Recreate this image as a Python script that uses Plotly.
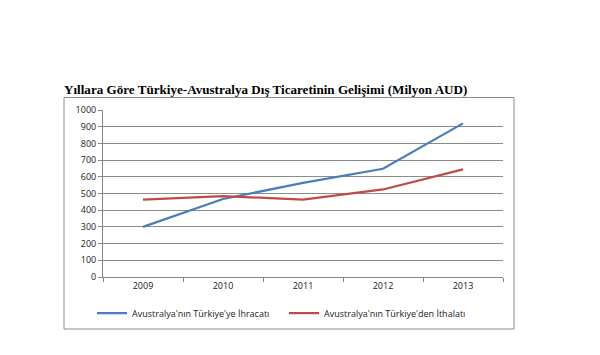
import plotly.graph_objects as go

years = ["2009", "2010", "2011", "2012", "2013"]
ihracat = [300, 467, 564, 648, 920]
ithalat = [464, 484, 464, 524, 644]
y_ticks = [0, 100, 200, 300, 400, 500, 600, 700, 800, 900, 1000]

O = 8  # default page body margin in the browser
L, R, T, B = 103 - O, 97 + O, 110 - O, 78 + O
W, H = 600, 355
pw, ph = W - L - R, H - T - B

def px_x(x):
    return (x - O - L) / pw

def px_y(y):
    return (H - B - (y - O)) / ph

fig = go.Figure()
fig.add_trace(go.Scatter(x=years, y=ihracat, mode="lines",
                         name="Avustralya'nın Türkiye'ye İhracatı",
                         line=dict(color="#4A7EBB", width=2.25)))
fig.add_trace(go.Scatter(x=years, y=ithalat, mode="lines",
                         name="Avustralya'nın Türkiye'den İthalatı",
                         line=dict(color="#BE4B48", width=2.25)))

fig.update_layout(
    width=W, height=H,
    margin=dict(l=L, r=R, t=T, b=B),
    paper_bgcolor="white", plot_bgcolor="white",
    font=dict(family="Open Sans, Liberation Sans, sans-serif", size=9, color="#222"),
    showlegend=True,
    legend=dict(orientation="h", x=px_x(92), y=px_y(313), xanchor="left", yanchor="middle",
                font=dict(size=9), entrywidth=147, entrywidthmode="pixels",
                bgcolor="rgba(0,0,0,0)", itemwidth=30),
    xaxis=dict(type="category", range=[-0.5, 4.5], showgrid=False,
               showline=True, linecolor="#868686", linewidth=1,
               ticks="outside", tickson="boundaries", ticklen=4, tickcolor="#868686",
               tickfont=dict(size=9), fixedrange=True),
    yaxis=dict(range=[0, 1000], tickvals=y_ticks, showgrid=True, gridcolor="#8c8c8c", gridwidth=1,
               showline=True, linecolor="#868686", linewidth=1,
               ticks="outside", ticklen=4, tickcolor="#868686",
               tickfont=dict(size=9), zeroline=False, fixedrange=True),
    annotations=[dict(text="<b>Yıllara Göre Türkiye-Avustralya Dış Ticaretinin Gelişimi (Milyon AUD)</b>",
                      xref="paper", yref="paper", x=px_x(62), y=px_y(90),
                      xanchor="left", yanchor="middle", showarrow=False,
                      font=dict(family="Liberation Serif, Times New Roman, serif", size=13.1, color="black"))],
    shapes=[dict(type="rect", xref="paper", yref="paper",
                 x0=px_x(64), x1=px_x(514), y0=px_y(329), y1=px_y(97.5),
                 line=dict(color="#8c8c8c", width=1), fillcolor="rgba(0,0,0,0)", layer="below")],
)

fig.write_html("out.html")
